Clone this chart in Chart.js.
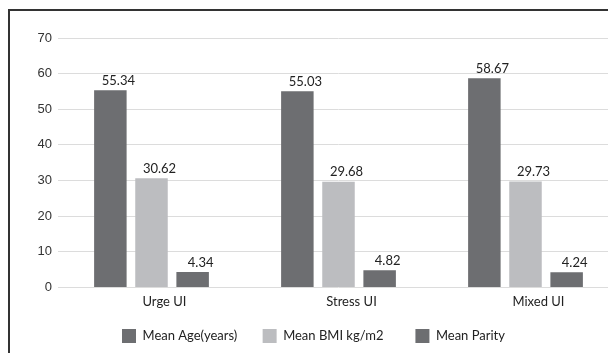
<!DOCTYPE html>
<html lang="en">
<head>
<meta charset="UTF-8">
<title>UI types</title>
<script src="https://cdn.jsdelivr.net/npm/chart.js"></script>
<style>
    html, body { margin: 0; padding: 0; background: #fff; overflow: hidden; }
    .janela { position: relative; width: 620px; height: 353px; }
    .moldura {
        position: absolute; left: 8px; top: 9px; width: 700px; height: 400px;
        border-top: 2px solid #333; border-left: 2px solid #333;
        pointer-events: none;
    }
</style>
</head>
<body>
<div class="janela">
    <canvas id="grafico" width="620" height="353"></canvas>
    <div class="moldura"></div>
</div>

<script>
    // categorias e series
    const categorias = ['Urge UI', 'Stress UI', 'Mixed UI'];
    const idadeMedia = [55.34, 55.03, 58.67];
    const imcMedio = [30.62, 29.68, 29.73];
    const paridadeMedia = [4.34, 4.82, 4.24];
    const ticksY = [0, 10, 20, 30, 40, 50, 60, 70];

    const escuro = '#6d6e71';
    const claro = '#bcbdc0';

    // rotulos de valor acima das barras
    const rotulos = {
        id: 'rotulos',
        afterDatasetsDraw(chart) {
            const ctx = chart.ctx;
            ctx.save();
            ctx.font = '13px Lato';
            ctx.fillStyle = '#222';
            ctx.textAlign = 'center';
            ctx.textBaseline = 'bottom';
            chart.data.datasets.forEach(function (ds, i) {
                chart.getDatasetMeta(i).data.forEach(function (bar, j) {
                    ctx.fillText(ds.data[j].toFixed(2), bar.x + 8, bar.y - 3);
                });
            });
            ctx.restore();
        }
    };

    // espaco extra entre os itens da legenda
    const espacos = ['    ', '      ', ''];

    new Chart(document.getElementById('grafico'), {
        type: 'bar',
        data: {
            labels: categorias,
            datasets: [
                { label: 'Mean Age(years)', data: idadeMedia, backgroundColor: escuro },
                { label: 'Mean BMI kg/m2', data: imcMedio, backgroundColor: claro },
                { label: 'Mean Parity', data: paridadeMedia, backgroundColor: escuro }
            ]
        },
        options: {
            responsive: false,
            animation: false,
            events: [],
            categoryPercentage: 0.66,
            barPercentage: 0.79,
            layout: { padding: { left: 8, right: 1, top: 38, bottom: 0 } },
            plugins: {
                tooltip: { enabled: false },
                legend: {
                    position: 'bottom',
                    labels: {
                        boxWidth: 14, boxHeight: 14, padding: 12,
                        color: '#222', font: { family: 'Lato', size: 13 },
                        generateLabels(chart) {
                            const itens = Chart.defaults.plugins.legend.labels.generateLabels(chart);
                            itens.forEach(function (item, i) { item.text += espacos[i]; });
                            return itens;
                        }
                    }
                }
            },
            scales: {
                x: {
                    grid: { display: false, drawTicks: false },
                    border: { display: false },
                    ticks: {
                        labelOffset: 13,
                        padding: 7,
                        color: '#222',
                        font: { family: 'Lato', size: 13 }
                    }
                },
                y: {
                    min: 0, max: 70,
                    afterBuildTicks(escala) { escala.ticks = ticksY.map(v => ({ value: v })); },
                    afterFit(escala) { escala.width = 50; },
                    grid: { color: '#dcdcdc', drawTicks: false },
                    border: { display: false },
                    ticks: {
                        padding: 6,
                        color: '#333',
                        font: { family: 'Liberation Sans', size: 13 }
                    }
                }
            }
        },
        plugins: [rotulos]
    });
</script>
</body>
</html>
